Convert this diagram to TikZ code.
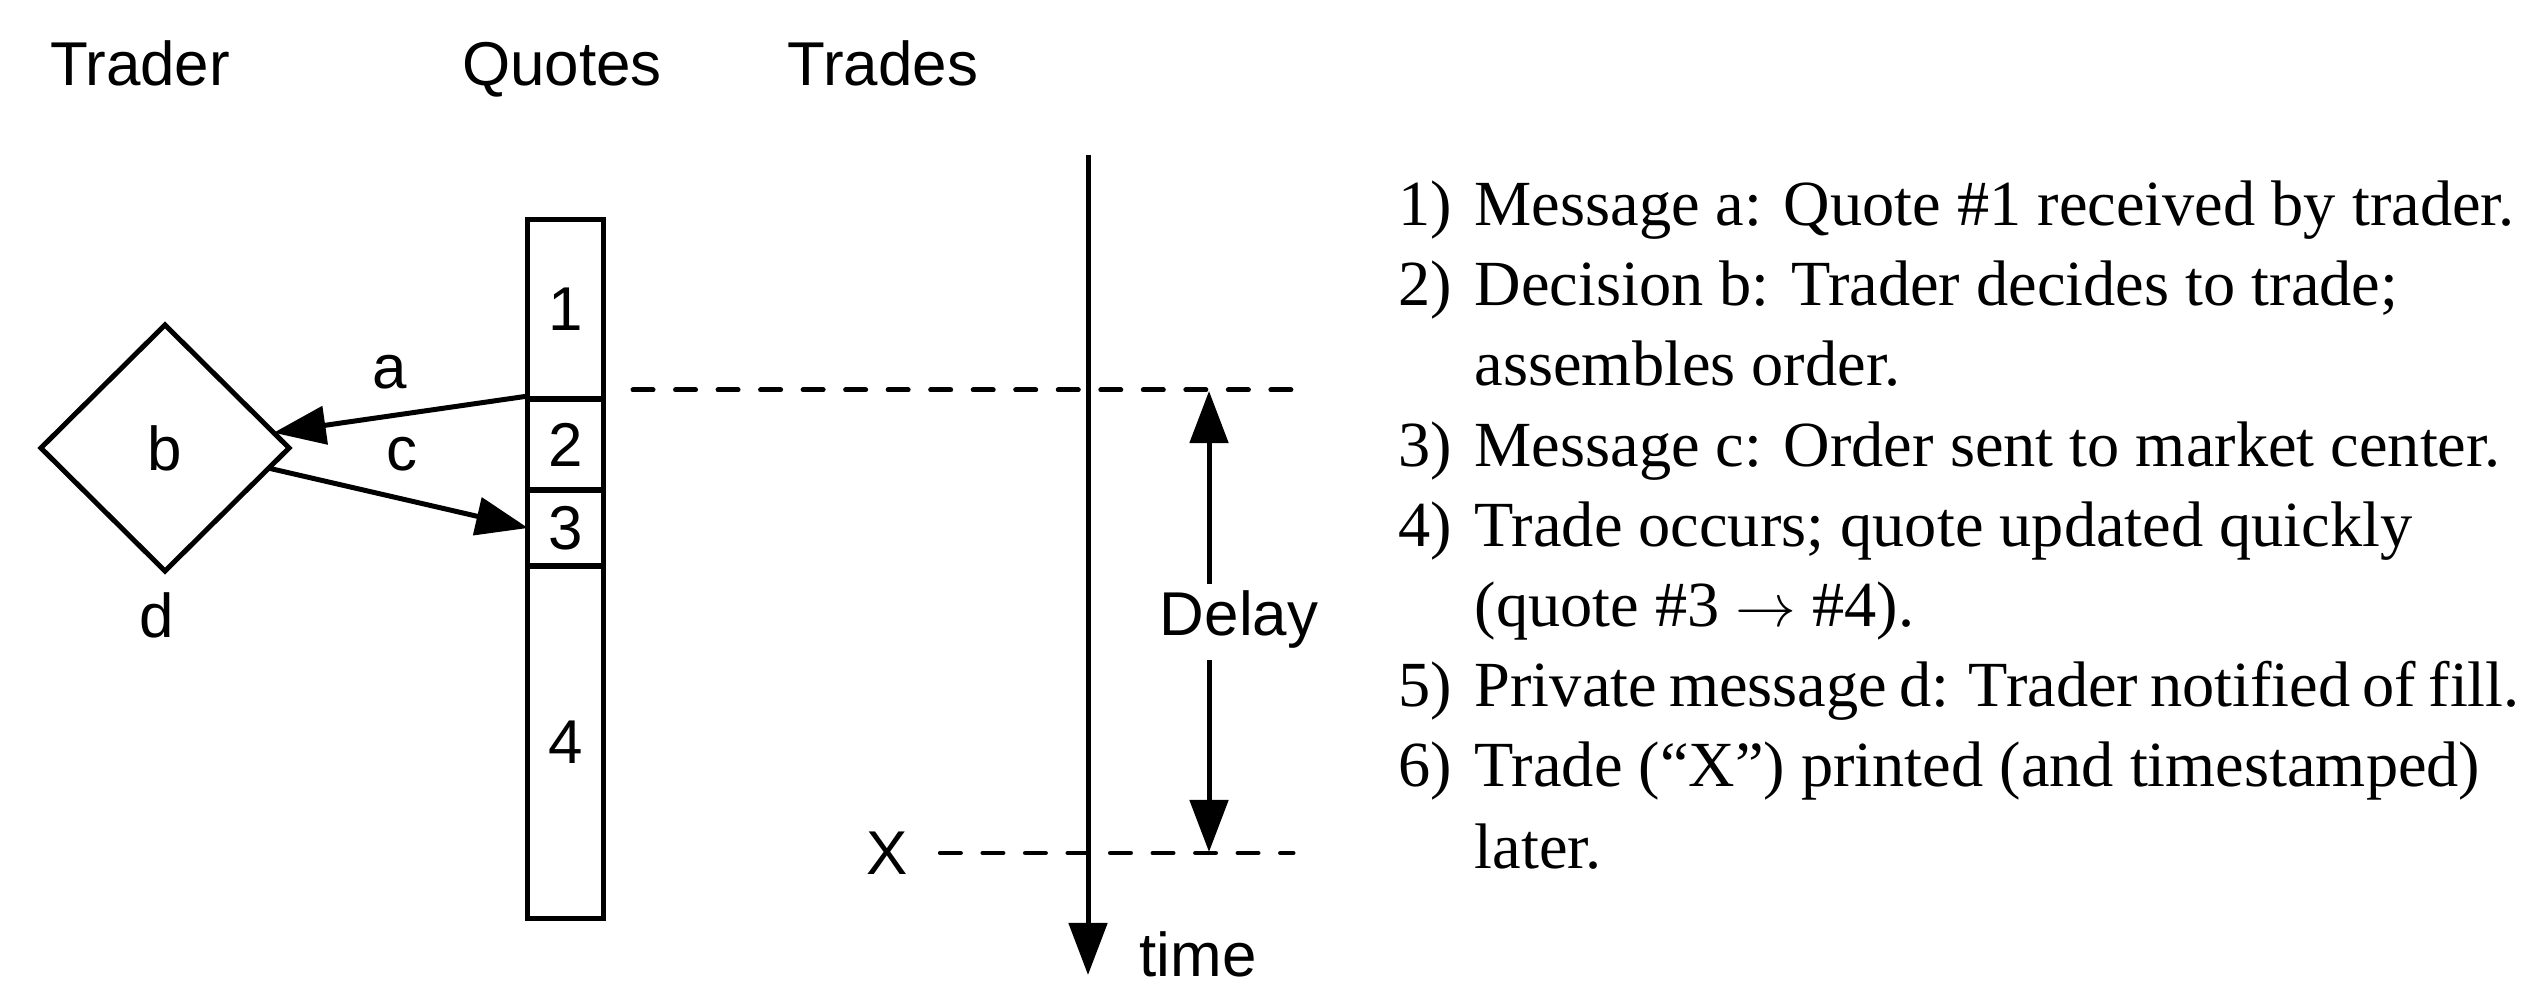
\documentclass[tikz,border=0pt]{standalone}
\usepackage{fontspec}
\setmainfont{Liberation Serif}
\setsansfont{Liberation Sans}
\usetikzlibrary{arrows.meta,shapes.geometric}
\newcommand\itmlbl[2]{\makebox[0.76cm][l]{#1}#2}
\begin{document}
\begin{tikzpicture}[x=0.01cm,y=-0.01cm,
  sans/.style={font=\sffamily\fontsize{17.6pt}{20pt}\selectfont, inner sep=0pt},
  serif/.style={font=\rmfamily\fontsize{18.3pt}{22pt}\selectfont, inner sep=0pt, anchor=base west},
  cell/.style={draw, line width=1.42pt, minimum width=0.75cm, inner sep=0pt, outer sep=0pt, sans},
  arr/.style={line width=1.42pt, -{Triangle[length=0.52cm,width=0.38cm]}},
  dashline/.style={line width=1.42pt, dash pattern=on 0.2cm off 0.225cm, line cap=round}]
\clip (0,0) rectangle (2534,986);
% headers
\node[sans, anchor=base] (htrader) at (140,86) {Trader};
\node[sans, anchor=base] (hquotes) at (562,86) {Quotes};
\node[sans, anchor=base] (htrades) at (883,86) {Trades};
% quote bar
\node[cell, minimum height=1.79cm] (q1) at (565.5,309.5) {1};
\node[cell, minimum height=0.91cm] (q2) at (565.5,444.5) {2};
\node[cell, minimum height=0.76cm] (q3) at (565.5,528) {3};
\node[cell, minimum height=3.52cm] (q4) at (565.5,742) {4};
% trader diamond
\node[draw, diamond, line width=1.42pt, minimum width=2.48cm, minimum height=2.46cm,
      inner sep=0pt, outer sep=0pt, sans] (b) at (165,448) {b};
\node[sans] (la) at (390,372) {a};
\node[sans] (lc) at (402,454) {c};
\node[sans] (ld) at (157,615) {d};
\draw[arr] ([yshift=0.03cm]q1.south west) -- (b.8.6);
\draw[arr] (b.-11.6) -- (q3.west);
% time axis
\coordinate (t0) at (1088,155);
\coordinate (t1) at (1088,975);
\draw[arr] (t0) -- (t1);
\node[sans, anchor=base] (time) at (1198,976) {time};
% dashed lines
\coordinate (d1s) at (633,390);
\coordinate (d1e) at (1293,390);
\draw[dashline] (d1s) -- (d1e);
\node[sans] (X) at (887,853) {X};
\coordinate (d2e) at (1293,853);
\draw[dashline] ([xshift=0.32cm]X.east) -- (d2e);
% delay
\node[sans] (delay) at (1239,619) {Delay};
\coordinate (du) at (1209,584);
\coordinate (dl) at (1209,660);
\coordinate (dtop) at (1209,391);
\coordinate (dbot) at (1209,852);
\draw[arr] (du) -- (dtop);
\draw[arr] (dl) -- (dbot);
% list
\node[serif] (l1) at (1398,226) {\itmlbl{1)}{Message a: Quote \#1 received by trader.}};
\node[serif] (l2) at (1398,306) {\itmlbl{2)}{Decision b: Trader decides to trade;}};
\node[serif] (l3) at (1398,386) {\itmlbl{}{assembles order.}};
\node[serif] (l4) at (1398,467) {\itmlbl{3)}{Message c: Order sent to market center.}};
\node[serif] (l5) at (1398,547) {\itmlbl{4)}{Trade occurs; quote updated quickly}};
\node[serif] (l6) at (1398,627) {\itmlbl{}{(quote \#3 $\rightarrow$ \#4).}};
\node[serif] (l7) at (1398,707) {\itmlbl{5)}{\spaceskip=0.19em\xspaceskip=0.3em\relax Private message d: Trader notified of fill.}};
\node[serif] (l8) at (1398,787) {\itmlbl{6)}{Trade (``X'') printed (and timestamped)}};
\node[serif] (l9) at (1398,868) {\itmlbl{}{later.}};
\end{tikzpicture}
\end{document}
